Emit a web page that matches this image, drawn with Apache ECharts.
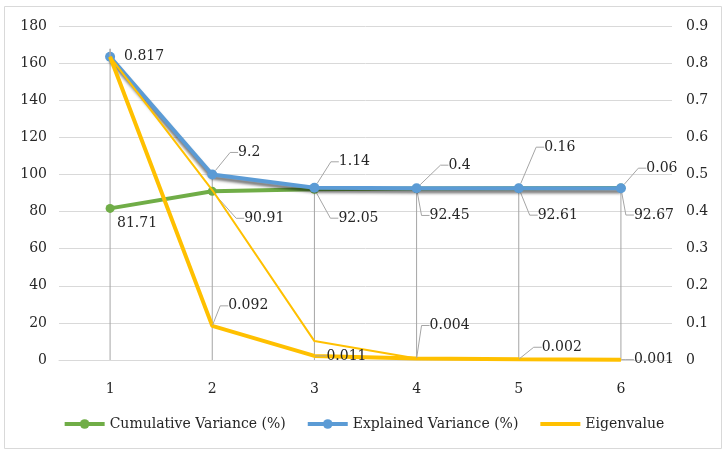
<!DOCTYPE html>
<html>
<head>
<meta charset="utf-8">
<script src="https://cdn.jsdelivr.net/npm/echarts@6.0.0/dist/echarts.min.js"></script>
<style>
  html, body { margin: 0; padding: 0; background: #fff; }
  #chart-container { width: 727px; height: 456px; }
</style>
</head>
<body>
<div id="chart-container"></div>
<script>
// Data
const categories = ["1", "2", "3", "4", "5", "6"];
const cumulativeVariance = [81.71, 90.91, 92.05, 92.45, 92.61, 92.67];
const explainedVariance = [163.4, 100, 92.8, 92.6, 92.6, 92.6];
const explainedLabels = ["0.817", "9.2", "1.14", "0.4", "0.16", "0.06"];
const eigenvalue = [0.817, 0.092, 0.011, 0.004, 0.002, 0.001];
const eigenvalueThin = [0.817, 0.458, 0.051, 0.004, 0.002, 0.001];
const leftTicks = { min: 0, max: 180, interval: 20 };
const rightTicks = { min: 0, max: 0.9, interval: 0.1 };

// label offsets (px) relative to each point
const blueOffsets = [[34, 0], [37, -22], [40, -26], [43, -23], [41, -41], [41, -20]];
const greenOffsets = [[27, 15], [52, 27], [44, 29], [33, 27], [39, 27], [33, 27]];
const yellowOffsets = [null, [36, -20], [32, 0], [33, -33], [43, -12], [33, 0]];

const FONT = "DejaVu Serif";
const TEXT = "#262626";
const scale = leftTicks.max / rightTicks.max;

// drop lines: from the highest point of each category down to the axis
const dropLines = categories.map((c, i) =>
  Math.max(cumulativeVariance[i], explainedVariance[i], eigenvalue[i] * scale, eigenvalueThin[i] * scale)
);

const dom = document.getElementById("chart-container");
const myChart = echarts.init(dom, null, { renderer: "canvas" });

function layoutFrom(offsets) {
  return function (params) {
    const o = offsets[params.dataIndex];
    if (!o) return {};
    return { dx: o[0], dy: o[1] };
  };
}

const labelBase = {
  show: true,
  position: "inside",
  fontFamily: FONT,
  fontSize: 14,
  color: TEXT
};
const leader = { show: true, length2: 8, lineStyle: { color: "#A5A5A5", width: 1 } };

// first point of the top series sits right next to its label: no leader there
function noLeaderFirst(values) {
  return values.map((v, i) => (i === 0 ? { value: v, labelLine: { show: false } } : v));
}

const option = {
  animation: false,
  textStyle: { fontFamily: FONT },
  graphic: [{
    type: "rect",
    shape: { x: 4.5, y: 6.5, width: 717, height: 442 },
    style: { fill: "none", stroke: "#D9D9D9", lineWidth: 1 },
    silent: true
  }],
  grid: { left: 59, right: 55, top: 26, bottom: 96 },
  legend: {
    bottom: 20,
    left: "center",
    data: [
      "Cumulative Variance (%)",
      "Explained Variance (%)",
      { name: "Eigenvalue", itemStyle: { opacity: 0 } }
    ],
    itemWidth: 40,
    itemHeight: 12,
    itemGap: 20,
    lineStyle: { width: 4 },
    textStyle: { fontFamily: FONT, fontSize: 14, color: TEXT }
  },
  xAxis: {
    type: "category",
    data: categories,
    axisLine: { lineStyle: { color: "#D9D9D9" } },
    axisTick: { show: false },
    axisLabel: { fontFamily: FONT, fontSize: 14, color: TEXT, margin: 22 }
  },
  yAxis: [
    {
      type: "value",
      min: leftTicks.min, max: leftTicks.max, interval: leftTicks.interval,
      axisLine: { show: false },
      axisTick: { show: false },
      splitLine: { lineStyle: { color: "#D9D9D9" } },
      axisLabel: { fontFamily: FONT, fontSize: 14, color: TEXT, margin: 12 }
    },
    {
      type: "value",
      min: rightTicks.min, max: rightTicks.max, interval: rightTicks.interval,
      axisLine: { show: false },
      axisTick: { show: false },
      splitLine: { show: false },
      axisLabel: { fontFamily: FONT, fontSize: 14, color: TEXT, margin: 14 }
    }
  ],
  series: [
    {
      name: "drop",
      type: "bar",
      data: dropLines,
      barWidth: 1,
      silent: true,
      itemStyle: { color: "#A5A5A5" },
      z: 1
    },
    {
      name: "Cumulative Variance (%)",
      type: "line",
      data: noLeaderFirst(cumulativeVariance),
      symbol: "circle",
      symbolSize: 9,
      lineStyle: { color: "#70AD47", width: 4 },
      itemStyle: { color: "#70AD47" },
      label: labelBase,
      labelLayout: layoutFrom(greenOffsets),
      labelLine: leader,
      z: 3
    },
    {
      name: "Explained Variance (%)",
      type: "line",
      data: noLeaderFirst(explainedVariance),
      symbol: "circle",
      symbolSize: 10,
      lineStyle: {
        color: "#5B9BD5", width: 4,
        shadowColor: "rgba(0,0,0,0.55)", shadowBlur: 3, shadowOffsetY: 3
      },
      itemStyle: { color: "#5B9BD5" },
      label: Object.assign({}, labelBase, {
        formatter: (p) => explainedLabels[p.dataIndex]
      }),
      labelLayout: layoutFrom(blueOffsets),
      labelLine: leader,
      z: 4
    },
    {
      name: "eigen-thin",
      type: "line",
      yAxisIndex: 1,
      data: eigenvalueThin,
      symbol: "none",
      lineStyle: { color: "#FFC000", width: 2 },
      itemStyle: { color: "#FFC000" },
      z: 5
    },
    {
      name: "Eigenvalue",
      type: "line",
      yAxisIndex: 1,
      data: eigenvalue,
      symbol: "circle",
      symbolSize: 1,
      lineStyle: { color: "#FFC000", width: 4 },
      itemStyle: { color: "#FFC000" },
      label: Object.assign({}, labelBase, {
        formatter: (p) => (p.dataIndex === 0 ? "" : String(eigenvalue[p.dataIndex]))
      }),
      labelLayout: layoutFrom(yellowOffsets),
      labelLine: leader,
      z: 6
    }
  ]
};

myChart.setOption(option);
window.addEventListener("resize", myChart.resize);
</script>
</body>
</html>
